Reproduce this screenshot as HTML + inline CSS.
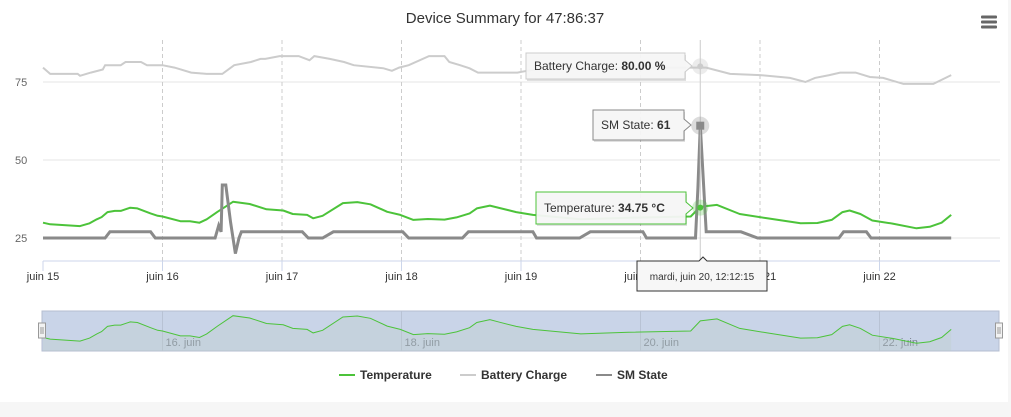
<!DOCTYPE html>
<html><head><meta charset="utf-8"><style>
body{margin:0;width:1011px;height:412px;background:#f6f6f6;font-family:"Liberation Sans",sans-serif;overflow:hidden}
#wrap{position:absolute;left:0;top:0;width:1008px;height:402px;background:#fff}
svg text{font-family:"Liberation Sans",sans-serif}
</style></head><body>
<div id="wrap">
<svg id="c" width="1011" height="412"></svg>
</div>
<script>
const tempT=[0,0.06,0.31,0.39,0.45,0.49,0.54,0.6,0.65,0.73,0.79,0.9,0.96,1.0,1.15,1.23,1.31,1.37,1.46,1.59,1.73,1.87,2.01,2.09,2.21,2.26,2.34,2.51,2.63,2.74,2.88,2.99,3.1,3.22,3.36,3.46,3.57,3.63,3.74,3.82,3.96,4.1,4.5,4.9,5.42,5.5,5.64,5.83,6.06,6.34,6.48,6.6,6.69,6.75,6.84,6.94,7.11,7.31,7.42,7.52,7.6];
const tempV=[29.9,29.4,28.8,29.7,31,31.7,33.3,33.7,33.7,34.7,34.5,32.9,32.1,31.9,30.4,30.4,29.9,31,33.4,36.6,35.9,34.2,33.8,32.7,32.4,31.3,32.1,36.2,36.5,35.8,33.4,32.4,30.8,31.1,30.9,31.6,32.9,34.5,35.4,34.6,33.3,32.4,31,31.5,31.9,35,35.6,32.7,31.3,29.7,29.8,30.8,33.3,33.8,32.7,30.6,29.6,28.1,28.6,29.9,32.4];
const batT=[0,0.06,0.29,0.31,0.4,0.5,0.52,0.65,0.69,0.82,0.87,1.0,1.1,1.24,1.37,1.5,1.6,1.74,1.82,1.86,1.98,2.14,2.23,2.27,2.4,2.52,2.6,2.85,2.92,2.98,3.06,3.23,3.36,3.4,3.49,3.57,3.64,3.97,4.05,4.22,5.5,5.55,5.75,6.0,6.25,6.38,6.46,6.58,6.67,6.8,6.92,7.03,7.2,7.45,7.6];
const batV=[79.6,77.6,77.6,77,78,79,80.4,80.4,81.4,81.4,80.4,80.4,79.6,78,77.6,77.6,80.4,81.4,82.4,82.4,83.3,83.3,82,83.3,82.4,81.4,80.4,79.4,78.6,79.6,80.4,83.3,83.3,81.4,80.4,79.4,78,78,78.6,79.6,79.6,79.6,77.6,77.2,76.3,75,76.3,77.2,78,78,76.6,76.3,74.4,74.4,77.2];
const smT=[0,0.52,0.56,0.9,0.94,1.44,1.47,1.49,1.5,1.53,1.57,1.61,1.64,1.66,2.17,2.22,2.34,2.43,3.01,3.06,3.51,3.56,4.1,4.13,4.49,4.58,5.02,5.05,5.46,5.48,5.5,5.55,5.84,5.98,6.66,6.7,6.89,6.93,7.6];
const smV=[25,25,27,27,25,25,29,27,42,42,30,20,25,27,27,25,25,27,27,25,25,27,27,25,25,27,27,25,25,41,61,27,27,25,25,27,27,25,25];
const yTicks=[25,50,75];
const xDays=["juin 15","juin 16","juin 17","juin 18","juin 19","juin 20","juin 21","juin 22"];
const navLabels=["16. juin","18. juin","20. juin","22. juin"];

const NS="http://www.w3.org/2000/svg",svg=document.getElementById('c');
function el(t,a,p){const e=document.createElementNS(NS,t);for(const k in a)e.setAttribute(k,a[k]);(p||svg).appendChild(e);return e;}
const X0=43,DW=119.5;
const xs=d=>X0+d*DW;
const ys=v=>238-(v-25)*3.12;
const nys=v=>343-(v-28.2)*3.25;

let t=el('text',{x:505,y:23,'text-anchor':'middle','font-size':15,fill:'#333'});t.textContent='Device Summary for 47:86:37';

let m=el('g',{});
[17,22,27].forEach(y=>el('rect',{x:981,y:y-1.5,width:16,height:3,rx:1,fill:'#666'},m));

yTicks.forEach(v=>{
  const g=el('line',{x1:43,x2:1000,y1:ys(v),y2:ys(v),stroke:'#e6e6e6'});
  
  const l=el('text',{x:15,y:ys(v)+4,'font-size':11,fill:'#666'});l.textContent=v;
  
});
xDays.forEach((d,i)=>{
  const x=xs(i);
  if(i>0){const g=el('line',{x1:x,x2:x,y1:40,y2:261,stroke:'#ccc','stroke-dasharray':'4,3'});
  }
  el('line',{x1:x,x2:x,y1:261,y2:271,stroke:'#ccd6eb'});
  const l=el('text',{x:x,y:280,'text-anchor':'middle','font-size':11,fill:'#333'});l.textContent=d;
  
});
el('line',{x1:43,x2:1000,y1:261,y2:261,stroke:'#ccd6eb'});

function path(T,V,fx,fy){return T.map((d,i)=>(i?'L':'M')+fx(d).toFixed(1)+','+fy(V[i]).toFixed(1)).join('');}
let p=el('path',{d:path(batT,batV,xs,ys),fill:'none',stroke:'#cccccc','stroke-width':2});

p=el('path',{d:path(tempT,tempV,xs,ys),fill:'none',stroke:'#4cc33a','stroke-width':2,'stroke-linejoin':'round'});

p=el('path',{d:path(smT,smV,xs,ys),fill:'none',stroke:'#8a8a8a','stroke-width':3});


const hx=xs(5.5);
el('line',{x1:hx,x2:hx,y1:40,y2:261,stroke:'#ccc'});
el('circle',{cx:hx,cy:ys(80),r:8,fill:'rgba(200,200,200,0.35)'});el('circle',{cx:hx,cy:ys(80),r:3,fill:'#ccc'});
el('circle',{cx:hx,cy:ys(61),r:9,fill:'rgba(140,140,140,0.3)'});el('rect',{x:hx-4,y:ys(61)-4,width:8,height:8,fill:'#8a8a8a'});
el('circle',{cx:hx,cy:ys(34.75),r:8,fill:'rgba(76,195,58,0.25)'});el('circle',{cx:hx,cy:ys(34.75),r:3,fill:'#4cc33a'});
function tip(x,y,w,h,lab,val,col,name){
  const g=el('g',{});
  el('rect',{x:x+1,y:y+2,width:w,height:h,fill:'rgba(0,0,0,0.12)'},g);
  el('path',{d:`M${x},${y}h${w}v${h/2-6}l7,6l-7,6v${h/2-6}h${-w}z`,fill:'rgba(247,247,247,0.95)',stroke:col},g);
  const tx=el('text',{x:x+8,y:y+h/2+4,'font-size':12,fill:'#333'},g);
  tx.innerHTML=lab+': <tspan font-weight="bold">'+val+'</tspan>';
}
tip(526,53,159,26,'Battery Charge','80.00 %','#ccc','battery-tooltip');
tip(593,110,91,30,'SM State','61','#8a8a8a','sm-state-tooltip');
tip(536,192,150,32,'Temperature','34.75 °C','#4cc33a','temperature-tooltip');
let g=el('g',{});
el('path',{d:`M637,261h62l4,-4l4,4h60v30h-130z`,fill:'#f7f7f7',stroke:'#333'},g);
t=el('text',{x:702,y:280,'text-anchor':'middle','font-size':10,fill:'#333'},g);t.textContent='mardi, juin 20, 12:12:15';

g=el('g',{});
el('rect',{x:42,y:311,width:957,height:40,fill:'#c9d4e8',stroke:'#b5bed0'},g);
for(let i=1;i<8;i+=2){el('line',{x1:xs(i),x2:xs(i),y1:311,y2:351,stroke:'#b8c2d4'},g);}
navLabels.forEach((d,i)=>{const l=el('text',{x:xs(1+2*i)+3,y:346,'font-size':11,fill:'#7a8190'},g);l.textContent=d;});
el('path',{d:path(tempT,tempV,xs,nys)+`L${xs(tempT[tempT.length-1])},351L43,351Z`,fill:'rgba(190,205,200,0.35)',stroke:'none'},g);
el('path',{d:path(tempT,tempV,xs,nys),fill:'none',stroke:'#4cc33a','stroke-width':1},g);
[42,999].forEach(x=>{const h=el('rect',{x:x-3.5,y:323,width:7,height:15,fill:'#f2f2f2',stroke:'#999'},g);

el('line',{x1:x-1,x2:x-1,y1:327,y2:334,stroke:'#999'},g);el('line',{x1:x+1,x2:x+1,y1:327,y2:334,stroke:'#999'},g);});

[['Temperature','#4cc33a',339],['Battery Charge','#cccccc',460],['SM State','#8a8a8a',596]].forEach(([n,c,x])=>{
  const lg=el('g',{});
  el('line',{x1:x,x2:x+16,y1:375,y2:375,stroke:c,'stroke-width':2},lg);
  const l=el('text',{x:x+21,y:379,'font-size':12,'font-weight':'bold',fill:'#333'},lg);l.textContent=n;
});
</script>
</body></html>
